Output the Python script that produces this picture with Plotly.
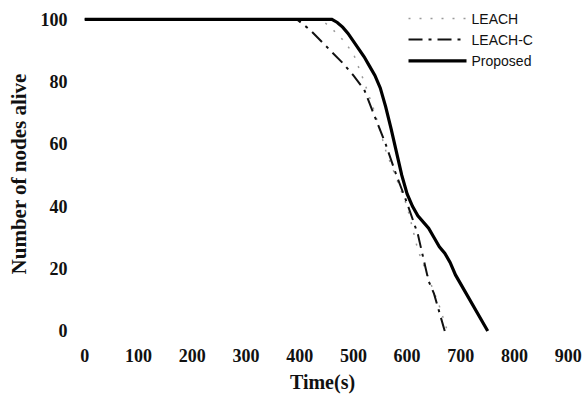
import plotly.graph_objects as go

# Data
leach_t = [0, 100, 200, 300, 400, 440, 460, 480, 500, 520, 540, 560, 580, 600, 620, 640, 660, 675]
leach_n = [100, 100, 100, 100, 100, 100, 97, 93.5, 89, 80, 70, 58, 49, 40, 26, 17, 8, 0]

leachc_t = [0, 100, 200, 300, 395, 420, 440, 460, 480, 500, 520, 540, 560, 580, 600, 620, 630, 640, 650, 660, 670]
leachc_n = [100, 100, 100, 100, 100, 96.5, 93, 89.5, 86, 82, 77.5, 68.7, 60, 50, 41, 31, 23, 16, 12, 6, 0]

prop_t = [0, 100, 200, 300, 400, 460, 470, 480, 490, 500, 510, 520, 530, 540, 550, 560, 570, 580,
          590, 600, 610, 620, 630, 640, 650, 660, 670, 680, 690, 700, 710, 720, 730, 740, 750]
prop_n = [100, 100, 100, 100, 100, 100, 99, 97.5, 95.5, 93, 90.5, 88, 85, 82, 78, 72, 65, 57,
          50, 44, 40, 37, 35, 33, 30, 27, 25, 22, 18, 15, 12, 9, 6, 3, 0]

x_ticks = [0, 100, 200, 300, 400, 500, 600, 700, 800, 900]
y_ticks = [0, 20, 40, 60, 80, 100]

serif = "Liberation Serif, Times New Roman, serif"

fig = go.Figure()
fig.add_trace(go.Scatter(x=leach_t, y=leach_n, mode="lines", name="LEACH",
                         line=dict(color="#9a9a9a", width=1.5, dash="2px,9px")))
fig.add_trace(go.Scatter(x=leachc_t, y=leachc_n, mode="lines", name="LEACH-C",
                         line=dict(color="#111111", width=2, dash="14px,6px,3px,6px")))
fig.add_trace(go.Scatter(x=prop_t, y=prop_n, mode="lines", name="Proposed",
                         line=dict(color="#000000", width=3.2)))

fig.update_layout(
    width=585, height=401,
    margin=dict(l=74, r=14, t=10, b=63, autoexpand=False),
    plot_bgcolor="white", paper_bgcolor="white",
    showlegend=True,
    legend=dict(x=0.663, y=1.022, xanchor="left", yanchor="top",
                font=dict(family="Liberation Sans, Arial, sans-serif", size=14, color="#111"),
                bgcolor="rgba(0,0,0,0)", itemwidth=58, tracegroupgap=0),
    xaxis=dict(range=[-20, 905], tickvals=x_ticks, showgrid=False, zeroline=False,
               showline=False, ticks="outside", ticklen=1, tickcolor="white",
               automargin=False, ticklabeloverflow="allow",
               tickfont=dict(family=serif, size=18, color="#111", weight="bold"),
               title=dict(text="Time(s)", font=dict(family=serif, size=20, color="#111", weight="bold"),
                          standoff=10)),
    yaxis=dict(range=[-2.24, 103], tickvals=y_ticks, showgrid=False, zeroline=False,
               showline=False, ticks="outside", ticklen=2, tickcolor="white",
               automargin=False,
               tickfont=dict(family=serif, size=18, color="#111", weight="bold"),
               title=dict(text="Number of nodes alive",
                          font=dict(family=serif, size=21, color="#111", weight="bold"), standoff=8)),
)

fig.write_html("out.html", config={"displayModeBar": False},
               post_script="document.body.style.margin='0';")
